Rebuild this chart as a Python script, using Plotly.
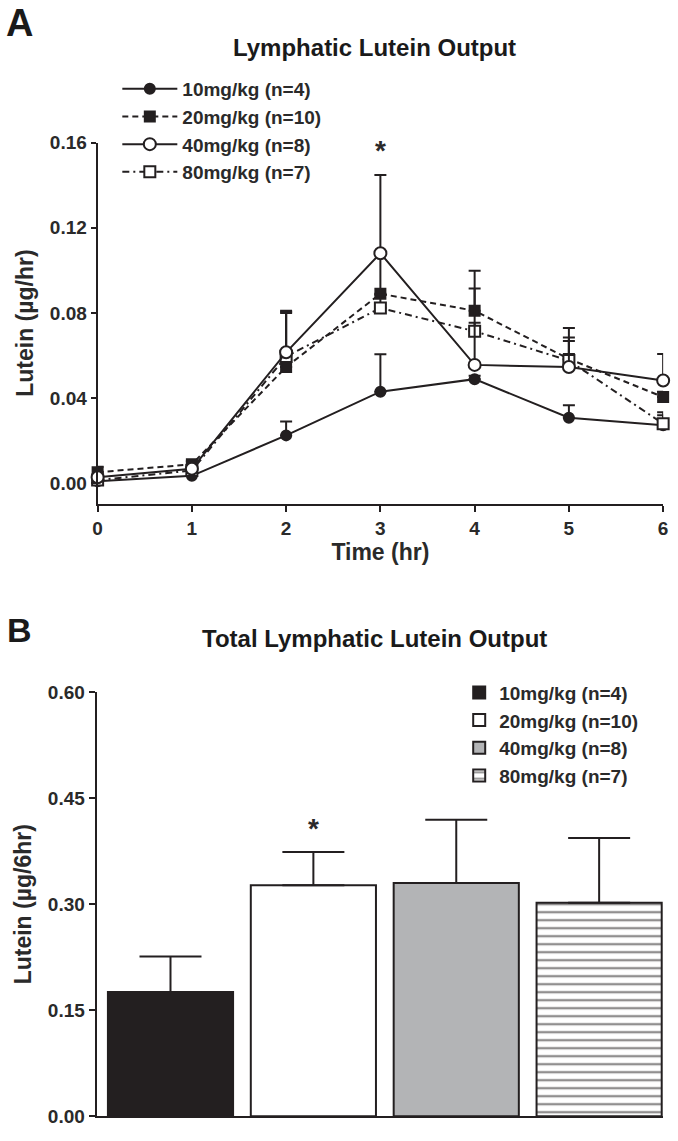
import plotly.graph_objects as go

# ---------------- data ----------------
time_hr = [0, 1, 2, 3, 4, 5, 6]

mean_10 = [0.0010, 0.0035, 0.0225, 0.0430, 0.0489, 0.0308, 0.0273]
err_10 = [0.0010, 0.0010, 0.0065, 0.0176, 0.0016, 0.0059, 0.0047]

mean_20 = [0.0052, 0.0089, 0.0546, 0.0890, 0.0810, 0.0584, 0.0405]
err_20 = [0.0026, 0.0015, 0.0259, 0.0190, 0.0188, 0.0145, 0.0025]

mean_40 = [0.0028, 0.0068, 0.0615, 0.1080, 0.0556, 0.0546, 0.0483]
err_40 = [0.0015, 0.0015, 0.0195, 0.0368, 0.0359, 0.0138, 0.0124]

mean_80 = [0.0015, 0.0060, 0.0595, 0.0823, 0.0714, 0.0576, 0.0280]
err_80 = [0.0015, 0.0015, 0.0205, 0.0062, 0.0040, 0.0092, 0.0054]

dose_labels = ["10mg/kg (n=4)", "20mg/kg (n=10)", "40mg/kg (n=8)", "80mg/kg (n=7)"]

total_mean = [0.1757, 0.3270, 0.3300, 0.3020]
total_err = [0.0503, 0.0470, 0.0895, 0.0917]

y_ticks_a = [0.00, 0.04, 0.08, 0.12, 0.16]
y_ticks_b = [0.00, 0.15, 0.30, 0.45, 0.60]

# ---------------- style ----------------
INK = "#231f20"
TXT = "#2a2a2a"
FONT = "Liberation Sans, Arial, sans-serif"
W, H = 678, 1141


def py(px):
    return 1 - px / H


def px_x(px):
    return px / W


fig = go.Figure()

series = [
    (0, mean_10, err_10, "circle", INK, "solid", 10),
    (1, mean_20, err_20, "square", INK, "6px,4px", 10),
    (3, mean_80, err_80, "square", "white", "7px,4px,2px,4px", 11),
    (2, mean_40, err_40, "circle", "white", "solid", 12),
]
for idx, m, e, sym, fill, dash, size in series:
    fig.add_trace(go.Scatter(
        x=time_hr, y=m, mode="lines+markers", name=dose_labels[idx],
        line=dict(color=INK, width=2, dash=dash),
        marker=dict(symbol=sym, size=size, color=fill, line=dict(color=INK, width=2)),
        error_y=dict(type="data", symmetric=False, array=e, arrayminus=[0] * len(e),
                     color=INK, thickness=2, width=6),
        xaxis="x", yaxis="y", legend="legend", legendrank=idx + 1,
        cliponaxis=False,
    ))

bar_colors = [INK, "white", "#b3b4b6", "white"]
for i in range(4):
    mk = dict(color=bar_colors[i], line=dict(color=INK, width=2))
    if i == 3:
        mk["pattern"] = dict(shape="-", size=8, solidity=0.3, fgcolor=INK, bgcolor="white")
    fig.add_trace(go.Bar(
        x=[i], y=[total_mean[i]], width=0.876, name=dose_labels[i],
        marker=mk,
        error_y=dict(type="data", symmetric=False, array=[total_err[i]], arrayminus=[0],
                     color=INK, thickness=2, width=31),
        xaxis="x2", yaxis="y2", legend="legend2", cliponaxis=False,
    ))

axis_common = dict(showline=True, linecolor=INK, linewidth=2, showgrid=False, zeroline=False,
                   ticks="outside", tickcolor=INK, tickwidth=2,
                   tickfont=dict(family=FONT, size=19, color=TXT, weight="bold"))
title_font = dict(family=FONT, size=23, color=TXT, weight="bold")

fig.update_layout(
    width=W, height=H, margin=dict(l=0, r=0, t=0, b=0),
    paper_bgcolor="white", plot_bgcolor="white",
    barmode="overlay", showlegend=True,
    font=dict(family=FONT, color=INK),
    xaxis=dict(domain=[px_x(94), px_x(668)], range=[0, 6], tickvals=time_hr, ticklen=6,
               anchor="y",
               title=dict(text="Time (hr)", standoff=6, font=title_font),
               **axis_common),
    yaxis=dict(domain=[py(503), py(135)], range=[-0.0096, 0.16], tickvals=y_ticks_a,
               tickformat=".2f", ticklen=5, anchor="x",
               title=dict(text="Lutein (µg/hr)", standoff=10, font=title_font),
               **axis_common),
    xaxis2=dict(domain=[px_x(93), px_x(668)], range=[-0.517, 3.448], showticklabels=False,
                anchor="y2", showline=True, linecolor=INK, linewidth=2, showgrid=False,
                zeroline=False, ticks=""),
    yaxis2=dict(domain=[py(1127), py(695)], range=[0, 0.6], tickvals=y_ticks_b, tickformat=".2f",
                ticklen=6, anchor="x2",
                title=dict(text="Lutein (µg/6hr)", standoff=10, font=title_font),
                **axis_common),
    legend=dict(x=px_x(114), y=py(61), xanchor="left", yanchor="top",
                font=dict(family=FONT, size=19, color=TXT, weight="bold"),
                itemwidth=55, tracegroupgap=1, bgcolor="rgba(0,0,0,0)",
                traceorder="normal"),
    legend2=dict(x=px_x(461), y=py(676), xanchor="left", yanchor="top",
                 font=dict(family=FONT, size=19, color=TXT, weight="bold"),
                 itemwidth=30, tracegroupgap=10, bgcolor="rgba(0,0,0,0)",
                 traceorder="normal"),
)

annots = [
    dict(text="A", x=px_x(-1), y=py(13), xanchor="left", yanchor="middle", size=38),
    dict(text="B", x=px_x(0), y=py(632), xanchor="left", yanchor="middle", size=34),
    dict(text="Lymphatic Lutein Output", x=px_x(375), y=py(38), xanchor="center", yanchor="middle", size=24),
    dict(text="Total Lymphatic Lutein Output", x=px_x(375), y=py(640), xanchor="center", yanchor="middle", size=24),
]
for a in annots:
    fig.add_annotation(text=a["text"], x=a["x"], y=a["y"], xref="paper", yref="paper",
                       xanchor=a["xanchor"], yanchor=a["yanchor"], showarrow=False,
                       font=dict(family=FONT, size=a["size"], color="#1a1a1a", weight="bold"))

# significance asterisks, anchored on the error-bar tops
fig.add_annotation(text="*", x=time_hr[3], y=mean_40[3] + err_40[3], xref="x", yref="y",
                   yanchor="bottom", yshift=7, showarrow=False,
                   font=dict(family=FONT, size=28, color=TXT, weight="bold"))
fig.add_annotation(text="*", x=1, y=total_mean[1] + total_err[1], xref="x2", yref="y2",
                   yanchor="bottom", yshift=6, showarrow=False,
                   font=dict(family=FONT, size=28, color=TXT, weight="bold"))

fig.write_html("out.html", config={"displayModeBar": False},
               post_script="document.body.style.margin='0';document.body.style.overflow='hidden';")
